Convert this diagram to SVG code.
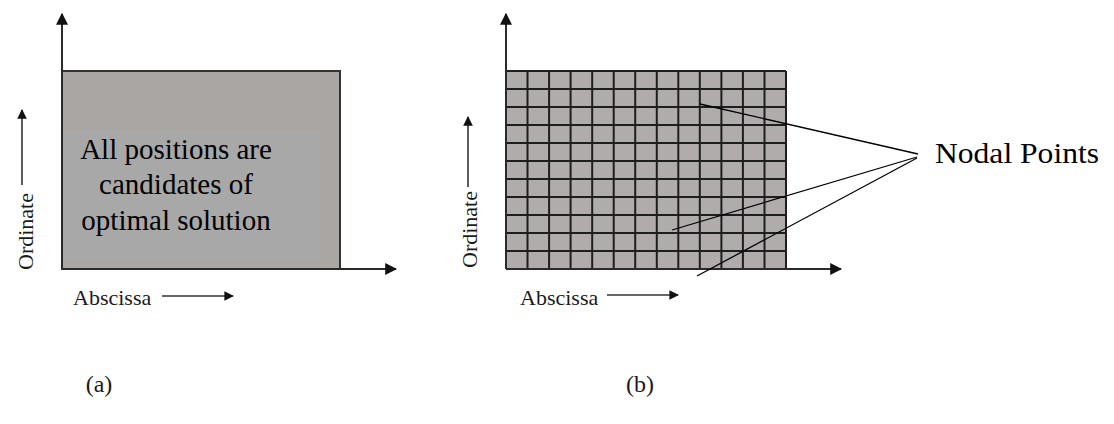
<svg xmlns="http://www.w3.org/2000/svg" width="1114" height="424" viewBox="0 0 1114 424">
<style>
.ax{stroke:#2a2a2a;stroke-width:2;fill:none}
.sm{stroke:#333;stroke-width:1.6;fill:none}
.lbl{fill:#1a1a1a}
.big{font-size:29px;fill:#000}
.grid{stroke:#1e1e1e;stroke-width:2;fill:none}
.lead{stroke:#000;stroke-width:1.3;fill:none}
</style>
<defs>
<marker id="ah" viewBox="0 0 10 10" refX="9" refY="5" markerWidth="6" markerHeight="6" orient="auto" markerUnits="strokeWidth">
<path d="M0,0 L10,5 L0,10 z" fill="#111"/>
</marker>
<marker id="ahs" viewBox="0 0 10 10" refX="9" refY="5" markerWidth="7" markerHeight="6" orient="auto" markerUnits="strokeWidth">
<path d="M0,0 L10,5 L0,10 z" fill="#111"/>
</marker>
</defs>
<rect width="1114" height="424" fill="#fff"/>

<g id="panel-a" font-family="Liberation Serif, Times New Roman, serif">
<rect x="62" y="71" width="278" height="198" fill="#aaa6a4" stroke="#333" stroke-width="2"/>
<rect x="63" y="130" width="257" height="130" fill="#a8a8a8"/>
<text class="big" text-anchor="middle" x="176" y="159">All positions are</text>
<text class="big" text-anchor="middle" x="176" y="194">candidates of</text>
<text class="big" text-anchor="middle" x="176" y="230">optimal solution</text>
</g>

<g id="axes-a" font-family="Liberation Serif, Times New Roman, serif">
<line class="ax" x1="62" y1="269" x2="62" y2="14" marker-end="url(#ah)"/>
<line class="ax" x1="62" y1="269" x2="396" y2="269" marker-end="url(#ah)"/>
<text class="lbl" font-size="22" x="73" y="305">Abscissa</text>
<line class="sm" x1="162" y1="296" x2="233" y2="296" marker-end="url(#ahs)"/>
<text class="lbl" font-size="22" transform="translate(33,270) rotate(-90)">Ordinate</text>
<line class="sm" x1="22" y1="185" x2="22" y2="110" marker-end="url(#ahs)"/>
</g>

<g id="panel-b">
<rect x="506" y="71" width="280" height="198" fill="#b0acab"/>
<path class="grid" d="M506,71V269 M527.5,71V269 M549.1,71V269 M570.6,71V269 M592.2,71V269 M613.7,71V269 M635.2,71V269 M656.8,71V269 M678.3,71V269 M699.8,71V269 M721.4,71V269 M742.9,71V269 M764.5,71V269 M786,71V269 M506,71H786 M506,89H786 M506,107H786 M506,125H786 M506,143H786 M506,161H786 M506,179H786 M506,197H786 M506,215H786 M506,233H786 M506,251H786 M506,269H786"/>
</g>

<g id="axes-b" font-family="Liberation Serif, Times New Roman, serif">
<line class="ax" x1="506" y1="269" x2="506" y2="14" marker-end="url(#ah)"/>
<line class="ax" x1="506" y1="269" x2="841" y2="269" marker-end="url(#ah)"/>
<text class="lbl" font-size="22" x="520" y="305">Abscissa</text>
<line class="sm" x1="607" y1="295" x2="678" y2="295" marker-end="url(#ahs)"/>
<text class="lbl" font-size="22" transform="translate(477,268) rotate(-90)">Ordinate</text>
<line class="sm" x1="468" y1="187" x2="468" y2="117" marker-end="url(#ahs)"/>
</g>

<g id="connectors">
<line class="lead" x1="700" y1="104" x2="918" y2="154"/>
<line class="lead" x1="672" y1="230" x2="917" y2="157"/>
<line class="lead" x1="697" y1="276" x2="917" y2="158"/>
</g>

<g id="nodal-label" font-family="Liberation Serif, Times New Roman, serif">
<text class="big" x="935" y="163" font-size="30" textLength="164" lengthAdjust="spacingAndGlyphs">Nodal Points</text>
</g>

<g id="captions" font-family="Liberation Serif, Times New Roman, serif">
<text class="lbl" font-size="24" x="99" y="392" text-anchor="middle" fill="#222">(a)</text>
<text class="lbl" font-size="24" x="640" y="392" text-anchor="middle" fill="#222">(b)</text>
</g>
</svg>
